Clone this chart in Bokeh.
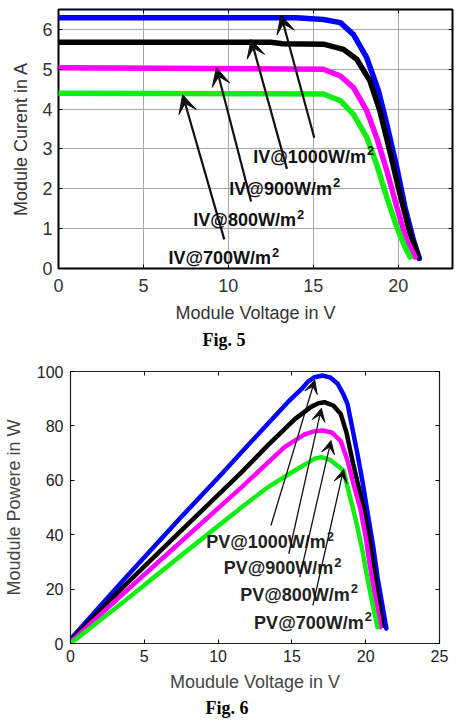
from bokeh.plotting import figure
from bokeh.layouts import column
from bokeh.models import Arrow, VeeHead, LinearAxis, Title, Range1d, FixedTicker
from bokeh.core.properties import value
from bokeh.embed import file_html
from bokeh.resources import INLINE

# ---------------- I-V characteristics (Fig. 5) ----------------
iv_v_1000 = [0, 14.0, 15.6, 16.6, 17.37, 18.15, 18.84, 19.33, 19.92, 20.4, 20.9, 21.25]
iv_i_1000 = [6.29, 6.29, 6.25, 6.17, 5.87, 5.29, 4.46, 3.62, 2.54, 1.54, 0.71, 0.25]

iv_v_900 = [0, 12.5, 13.2, 15.6, 16.78, 17.56, 18.34, 18.92, 19.5, 20.1, 20.7, 21.2]
iv_i_900 = [5.68, 5.68, 5.64, 5.63, 5.5, 5.25, 4.71, 3.96, 2.96, 1.88, 0.88, 0.29]

iv_v_800 = [0, 15.6, 16.6, 17.37, 18.15, 18.73, 19.33, 19.92, 20.5, 21.0]
iv_i_800 = [5.04, 5.0, 4.83, 4.54, 3.96, 3.29, 2.46, 1.54, 0.71, 0.29]

iv_v_700 = [0, 15.6, 16.6, 17.37, 18.15, 18.73, 19.33, 19.92, 20.4, 20.7]
iv_i_700 = [4.4, 4.38, 4.21, 3.87, 3.29, 2.62, 1.79, 1.04, 0.54, 0.29]

iv_labels = ["IV@1000W/m", "IV@900W/m", "IV@800W/m", "IV@700W/m"]
iv_label_v = [11.47, 10.06, 7.94, 6.47]
iv_label_i = [2.81, 2.0, 1.21, 0.26]
iv_arrow_tail_v = [15.06, 13.45, 11.34, 9.76]
iv_arrow_tail_i = [3.28, 2.5, 1.68, 0.73]
iv_arrow_head_v = [13.1, 11.34, 9.3, 7.31]
iv_arrow_head_i = [6.36, 5.75, 5.04, 4.36]

iv_xticks = [0, 5, 10, 15, 20]
iv_yticks = [0, 1, 2, 3, 4, 5, 6]

# ---------------- P-V characteristics (Fig. 6) ----------------
pv_v_1000 = [0, 3.56, 7.5, 10.27, 11.4, 13.4, 14.74, 15.64, 16.1, 16.53, 17.1, 17.6, 18.1,
             18.5, 18.77, 19.1, 19.44, 19.8, 20.1, 20.5, 20.8, 21.1, 21.4]
pv_p_1000 = [1.5, 23.2, 46.5, 62.5, 69.2, 81, 88.8, 93.5, 96.3, 97.9, 98.5, 97.8, 95.5,
             91.5, 88, 79, 69.7, 59, 49, 36, 24.4, 15, 5.5]

pv_v_900 = [0, 3.56, 7.5, 11.6, 13.4, 15.2, 16.3, 16.8, 17.2, 17.8, 18.3, 18.7, 19.1,
            19.5, 19.9, 20.2, 20.55, 20.85, 21.15]
pv_p_900 = [1, 20.7, 41.5, 63, 73, 82.5, 87, 88.3, 88.7, 87.5, 84.5, 77.5, 67.3,
            58, 49, 40, 28, 17, 6.5]

pv_v_800 = [0, 3.56, 7.5, 11.6, 14.5, 15.86, 16.5, 17.1, 17.7, 18.3, 18.77, 19.2,
            19.66, 20.0, 20.3, 20.65, 21.0]
pv_p_800 = [0.5, 18.3, 37.5, 57.5, 72.2, 76.9, 78.0, 78.3, 77.6, 74.5, 67.3, 58,
            49, 39, 28, 17, 6]

pv_v_700 = [0, 3.56, 7.5, 11.6, 13.3, 15.2, 16.53, 17.0, 17.6, 18.5, 18.77, 19.1,
            19.44, 19.8, 20.1, 20.45, 20.8]
pv_p_700 = [0, 15.2, 32.4, 50.1, 57.2, 63.6, 67.9, 68.5, 67.5, 63.6, 57.5, 50.5,
            42.8, 33.5, 24.4, 15, 6]

pv_labels = ["PV@1000W/m", "PV@900W/m", "PV@800W/m", "PV@700W/m"]
pv_label_v = [9.19, 10.38, 11.5, 12.44]
pv_label_p = [37.2, 27.7, 17.9, 7.6]
pv_arrow_tail_v = [13.58, 14.79, 15.53, 16.42]
pv_arrow_tail_p = [43.4, 33.0, 24.4, 14.0]
pv_arrow_head_v = [16.55, 17.0, 17.65, 18.5]
pv_arrow_head_p = [96.8, 86.5, 74.6, 64.0]

pv_xticks = [0, 5, 10, 15, 20, 25]
pv_yticks = [0, 20, 40, 60, 80, 100]

series_colors = ["#0000ff", "#000000", "#ff00ff", "#11ee11"]

SANS = "Liberation Sans"
SERIF = "Liberation Serif"

# advance widths of Arial/Liberation Sans Bold (per 1000 em) for the label characters
BOLD_ADVANCE = {"I": 278, "V": 667, "P": 667, "@": 975, "W": 944, "/": 278, "m": 889}


def bold_width(s, px):
    return sum(BOLD_ADVANCE.get(ch, 556) for ch in s) * px / 1000.0


def box_axes(p, xticks, yticks, tick_len):
    """Inward ticks on all four sides (boxed axes); returns the labelled axes."""
    xa, ya = p.below[0], p.left[0]
    for ax, ticks in ((xa, xticks), (ya, yticks)):
        ax.ticker = FixedTicker(ticks=ticks)
        ax.major_tick_in = tick_len
        ax.major_tick_out = 0
        ax.minor_tick_line_color = None
        ax.axis_line_color = None
    for ticks, side in ((xticks, "above"), (yticks, "right")):
        ax = LinearAxis(ticker=FixedTicker(ticks=ticks),
                        major_label_overrides={t: "" for t in ticks},
                        major_label_standoff=0,
                        major_tick_in=tick_len, major_tick_out=0,
                        minor_tick_line_color=None, axis_line_color=None)
        p.add_layout(ax, side)
    return xa, ya


def annotate(p, xs, ys, labels, color, tails_x, tails_y, heads_x, heads_y, lw, head):
    """Bold irradiance labels with a superscript 2, and arrows pointing at the curves."""
    p.text(x=xs, y=ys, text=labels,
           text_font=value(SANS), text_font_size="18px", text_font_style="bold",
           text_color=color, text_align="left", text_baseline="middle")
    p.text(x=xs, y=ys, text=["2"] * len(labels),
           x_offset=[bold_width(s, 18) + 1 for s in labels], y_offset=-6,
           text_font=value(SANS), text_font_size="13px", text_font_style="bold",
           text_color=color, text_align="left", text_baseline="middle")
    for tx, ty, hx, hy in zip(tails_x, tails_y, heads_x, heads_y):
        p.add_layout(Arrow(x_start=tx, y_start=ty, x_end=hx, y_end=hy,
                           line_color="#111111", line_width=lw,
                           end=VeeHead(size=head, fill_color="#111111",
                                       line_color="#111111")))


# ---------------- Fig. 5 ----------------
p1 = figure(width=459, height=355, output_backend="svg", toolbar_location=None,
            x_range=Range1d(0, 23.2), y_range=Range1d(0, 6.5), frame_align=False,
            min_border_left=58, min_border_right=7, min_border_top=9, min_border_bottom=87)
p1.background_fill_color = "white"
p1.border_fill_color = "white"
p1.outline_line_color = "black"
p1.outline_line_width = 2
xa1, ya1 = box_axes(p1, iv_xticks, iv_yticks, 4)
p1.xgrid.grid_line_color = "#a8a8a8"
p1.ygrid.grid_line_color = "#a8a8a8"
p1.xgrid.grid_line_width = 1
p1.ygrid.grid_line_width = 1

xa1.axis_label = "Module Voltage in V"
ya1.axis_label = "Module Curent in A"
for ax in (xa1, ya1):
    ax.axis_label_text_font = SANS
    ax.axis_label_text_font_size = "18px"
    ax.axis_label_text_font_style = "normal"
    ax.axis_label_text_color = "#333333"
    ax.major_label_text_font = SANS
    ax.major_label_text_font_size = "18px"
    ax.major_label_text_color = "#333333"
xa1.major_label_standoff = 10
xa1.axis_label_standoff = 8
ya1.major_label_standoff = 6
ya1.axis_label_standoff = 8

iv_series = [(iv_v_1000, iv_i_1000), (iv_v_900, iv_i_900),
             (iv_v_800, iv_i_800), (iv_v_700, iv_i_700)]
for (vv, ii), c in zip(iv_series, series_colors):
    p1.line(vv, ii, line_color=c, line_width=5.5, line_join="round", line_cap="round")

annotate(p1, iv_label_v, iv_label_i, iv_labels, "#111111",
         iv_arrow_tail_v, iv_arrow_tail_i, iv_arrow_head_v, iv_arrow_head_i, 2.2, 18)

p1.add_layout(Title(text="Fig. 5", align="left", offset=144, standoff=4,
                    text_font=SERIF, text_font_size="18px", text_font_style="bold",
                    text_color="black"), "below")

# ---------------- Fig. 6 ----------------
p2 = figure(width=459, height=366, output_backend="svg", toolbar_location=None,
            x_range=Range1d(0, 25), y_range=Range1d(0, 100), frame_align=False,
            min_border_left=67, min_border_right=20, min_border_top=16, min_border_bottom=78)
p2.background_fill_color = "white"
p2.border_fill_color = "white"
p2.outline_line_color = "#222222"
p2.outline_line_width = 1.2
xa2, ya2 = box_axes(p2, pv_xticks, pv_yticks, 4)
p2.xgrid.visible = False
p2.ygrid.visible = False

xa2.axis_label = "Moudule Voltage in V"
ya2.axis_label = "Moudule Powere in W"
for ax in (xa2, ya2):
    ax.axis_label_text_font = SANS
    ax.axis_label_text_font_size = "18px"
    ax.axis_label_text_font_style = "normal"
    ax.axis_label_text_color = "#444444"
    ax.major_label_text_font = SANS
    ax.major_label_text_font_size = "16px"
    ax.major_label_text_color = "#222222"
xa2.major_label_standoff = 6
xa2.axis_label_standoff = 7
ya2.major_label_standoff = 7
ya2.axis_label_standoff = 10

pv_series = [(pv_v_1000, pv_p_1000), (pv_v_900, pv_p_900),
             (pv_v_800, pv_p_800), (pv_v_700, pv_p_700)]
for (vv, pp), c in zip(pv_series, series_colors):
    p2.line(vv, pp, line_color=c, line_width=4.5, line_join="round", line_cap="round")

annotate(p2, pv_label_v, pv_label_p, pv_labels, "#222222",
         pv_arrow_tail_v, pv_arrow_tail_p, pv_arrow_head_v, pv_arrow_head_p, 1.3, 13)

p2.add_layout(Title(text="Fig. 6", align="left", offset=135, standoff=2,
                    text_font=SERIF, text_font_size="18px", text_font_style="bold",
                    text_color="black"), "below")

layout = column(p1, p2, spacing=0)
open("out.html", "w").write(file_html(layout, INLINE))
